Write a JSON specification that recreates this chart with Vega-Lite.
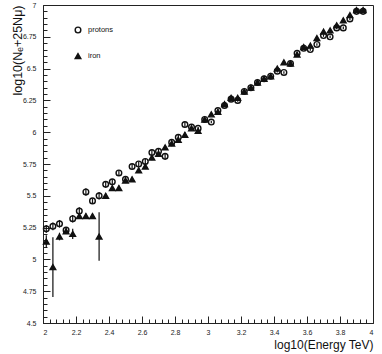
{
  "$schema": "https://vega.github.io/schema/vega-lite/v6.json",
  "width": 330,
  "height": 318,
  "autosize": {"type": "none"},
  "padding": {"left": 43, "top": 5, "right": 9, "bottom": 31},
  "background": "white",
  "config": {
    "font": "Liberation Sans",
    "view": {"stroke": "#222", "strokeWidth": 1},
    "axis": {
      "domainColor": "#222",
      "tickColor": "#222",
      "labelColor": "#222",
      "labelFont": "Liberation Sans",
      "labelFontSize": 7,
      "labelOverlap": false,
      "labelBound": false,
      "grid": false,
      "titleFont": "Liberation Sans",
      "titleFontWeight": "normal",
      "titleColor": "#111"
    }
  },
  "data": {
    "values": [
      {"E": 2.02, "y": 5.24, "err": 0.03, "type": "protons"},
      {"E": 2.06, "y": 5.26, "err": 0.03, "type": "protons"},
      {"E": 2.10, "y": 5.28, "err": 0.03, "type": "protons"},
      {"E": 2.14, "y": 5.23, "err": 0.02, "type": "protons"},
      {"E": 2.18, "y": 5.32, "err": 0.03, "type": "protons"},
      {"E": 2.22, "y": 5.38, "err": 0.03, "type": "protons"},
      {"E": 2.26, "y": 5.53, "err": 0.03, "type": "protons"},
      {"E": 2.30, "y": 5.46, "err": 0.02, "type": "protons"},
      {"E": 2.34, "y": 5.50, "err": 0.03, "type": "protons"},
      {"E": 2.38, "y": 5.59, "err": 0.02, "type": "protons"},
      {"E": 2.42, "y": 5.61, "err": 0.02, "type": "protons"},
      {"E": 2.46, "y": 5.68, "err": 0.02, "type": "protons"},
      {"E": 2.50, "y": 5.63, "err": 0.02, "type": "protons"},
      {"E": 2.54, "y": 5.73, "err": 0.02, "type": "protons"},
      {"E": 2.58, "y": 5.75, "err": 0.02, "type": "protons"},
      {"E": 2.62, "y": 5.77, "err": 0.02, "type": "protons"},
      {"E": 2.66, "y": 5.84, "err": 0.02, "type": "protons"},
      {"E": 2.70, "y": 5.85, "err": 0.02, "type": "protons"},
      {"E": 2.74, "y": 5.81, "err": 0.02, "type": "protons"},
      {"E": 2.78, "y": 5.92, "err": 0.02, "type": "protons"},
      {"E": 2.82, "y": 5.96, "err": 0.02, "type": "protons"},
      {"E": 2.86, "y": 6.06, "err": 0.02, "type": "protons"},
      {"E": 2.90, "y": 6.04, "err": 0.01, "type": "protons"},
      {"E": 2.94, "y": 6.03, "err": 0.01, "type": "protons"},
      {"E": 2.98, "y": 6.10, "err": 0.01, "type": "protons"},
      {"E": 3.02, "y": 6.08, "err": 0.01, "type": "protons"},
      {"E": 3.06, "y": 6.17, "err": 0.01, "type": "protons"},
      {"E": 3.10, "y": 6.21, "err": 0.01, "type": "protons"},
      {"E": 3.14, "y": 6.26, "err": 0.01, "type": "protons"},
      {"E": 3.18, "y": 6.25, "err": 0.01, "type": "protons"},
      {"E": 3.22, "y": 6.32, "err": 0.01, "type": "protons"},
      {"E": 3.26, "y": 6.35, "err": 0.01, "type": "protons"},
      {"E": 3.30, "y": 6.39, "err": 0.01, "type": "protons"},
      {"E": 3.34, "y": 6.42, "err": 0.01, "type": "protons"},
      {"E": 3.38, "y": 6.44, "err": 0.01, "type": "protons"},
      {"E": 3.42, "y": 6.48, "err": 0.01, "type": "protons"},
      {"E": 3.46, "y": 6.47, "err": 0.01, "type": "protons"},
      {"E": 3.50, "y": 6.54, "err": 0.01, "type": "protons"},
      {"E": 3.54, "y": 6.62, "err": 0.01, "type": "protons"},
      {"E": 3.58, "y": 6.66, "err": 0.01, "type": "protons"},
      {"E": 3.62, "y": 6.65, "err": 0.01, "type": "protons"},
      {"E": 3.66, "y": 6.69, "err": 0.01, "type": "protons"},
      {"E": 3.70, "y": 6.76, "err": 0.01, "type": "protons"},
      {"E": 3.74, "y": 6.75, "err": 0.01, "type": "protons"},
      {"E": 3.78, "y": 6.82, "err": 0.01, "type": "protons"},
      {"E": 3.82, "y": 6.82, "err": 0.01, "type": "protons"},
      {"E": 3.86, "y": 6.89, "err": 0.01, "type": "protons"},
      {"E": 3.90, "y": 6.95, "err": 0.01, "type": "protons"},
      {"E": 3.94, "y": 6.95, "err": 0.01, "type": "protons"},
      {"E": 2.02, "y": 5.14, "err": 0.05, "type": "iron"},
      {"E": 2.06, "y": 4.94, "err": 0.235, "type": "iron"},
      {"E": 2.10, "y": 5.18, "err": 0.03, "type": "iron"},
      {"E": 2.14, "y": 5.22, "err": 0.02, "type": "iron"},
      {"E": 2.18, "y": 5.20, "err": 0.04, "type": "iron"},
      {"E": 2.22, "y": 5.34, "err": 0.02, "type": "iron"},
      {"E": 2.26, "y": 5.34, "err": 0.02, "type": "iron"},
      {"E": 2.30, "y": 5.34, "err": 0.02, "type": "iron"},
      {"E": 2.34, "y": 5.18, "err": 0.19, "type": "iron"},
      {"E": 2.38, "y": 5.50, "err": 0.02, "type": "iron"},
      {"E": 2.42, "y": 5.56, "err": 0.02, "type": "iron"},
      {"E": 2.46, "y": 5.56, "err": 0.02, "type": "iron"},
      {"E": 2.50, "y": 5.62, "err": 0.02, "type": "iron"},
      {"E": 2.54, "y": 5.63, "err": 0.02, "type": "iron"},
      {"E": 2.58, "y": 5.70, "err": 0.02, "type": "iron"},
      {"E": 2.62, "y": 5.73, "err": 0.02, "type": "iron"},
      {"E": 2.66, "y": 5.80, "err": 0.02, "type": "iron"},
      {"E": 2.70, "y": 5.83, "err": 0.02, "type": "iron"},
      {"E": 2.74, "y": 5.88, "err": 0.02, "type": "iron"},
      {"E": 2.78, "y": 5.91, "err": 0.02, "type": "iron"},
      {"E": 2.82, "y": 5.94, "err": 0.02, "type": "iron"},
      {"E": 2.86, "y": 5.98, "err": 0.02, "type": "iron"},
      {"E": 2.90, "y": 6.03, "err": 0.01, "type": "iron"},
      {"E": 2.94, "y": 6.01, "err": 0.01, "type": "iron"},
      {"E": 2.98, "y": 6.10, "err": 0.01, "type": "iron"},
      {"E": 3.02, "y": 6.14, "err": 0.01, "type": "iron"},
      {"E": 3.06, "y": 6.16, "err": 0.01, "type": "iron"},
      {"E": 3.10, "y": 6.22, "err": 0.01, "type": "iron"},
      {"E": 3.14, "y": 6.27, "err": 0.01, "type": "iron"},
      {"E": 3.18, "y": 6.27, "err": 0.01, "type": "iron"},
      {"E": 3.22, "y": 6.32, "err": 0.01, "type": "iron"},
      {"E": 3.26, "y": 6.35, "err": 0.01, "type": "iron"},
      {"E": 3.30, "y": 6.39, "err": 0.01, "type": "iron"},
      {"E": 3.34, "y": 6.42, "err": 0.01, "type": "iron"},
      {"E": 3.38, "y": 6.44, "err": 0.01, "type": "iron"},
      {"E": 3.42, "y": 6.50, "err": 0.01, "type": "iron"},
      {"E": 3.46, "y": 6.55, "err": 0.01, "type": "iron"},
      {"E": 3.50, "y": 6.54, "err": 0.01, "type": "iron"},
      {"E": 3.54, "y": 6.61, "err": 0.01, "type": "iron"},
      {"E": 3.58, "y": 6.67, "err": 0.01, "type": "iron"},
      {"E": 3.62, "y": 6.68, "err": 0.01, "type": "iron"},
      {"E": 3.66, "y": 6.74, "err": 0.01, "type": "iron"},
      {"E": 3.70, "y": 6.79, "err": 0.01, "type": "iron"},
      {"E": 3.74, "y": 6.80, "err": 0.01, "type": "iron"},
      {"E": 3.78, "y": 6.84, "err": 0.01, "type": "iron"},
      {"E": 3.82, "y": 6.88, "err": 0.01, "type": "iron"},
      {"E": 3.86, "y": 6.92, "err": 0.01, "type": "iron"},
      {"E": 3.90, "y": 6.96, "err": 0.01, "type": "iron"},
      {"E": 3.94, "y": 6.96, "err": 0.01, "type": "iron"}
    ]
  },
  "encoding": {
    "x": {
      "field": "E",
      "type": "quantitative",
      "scale": {"domain": [2, 4], "nice": false, "zero": false},
      "axis": {
        "title": "log10(Energy TeV)",
        "titleFontSize": 12,
        "titleAnchor": "end",
        "titlePadding": 1,
        "values": [2, 2.04, 2.08, 2.12, 2.16, 2.2, 2.24, 2.28, 2.32, 2.36, 2.4, 2.44, 2.48, 2.52, 2.56, 2.6, 2.64, 2.68, 2.72, 2.76, 2.8, 2.84, 2.88, 2.92, 2.96, 3, 3.04, 3.08, 3.12, 3.16, 3.2, 3.24, 3.28, 3.32, 3.36, 3.4, 3.44, 3.48, 3.52, 3.56, 3.6, 3.64, 3.68, 3.72, 3.76, 3.8, 3.84, 3.88, 3.92, 3.96, 4],
        "labelExpr": "abs(datum.value*5 - round(datum.value*5)) < 0.001 ? format(datum.value, '.1~f') : ''",
        "tickSize": {"condition": {"test": "abs(datum.value*5 - round(datum.value*5)) < 0.001", "value": -7}, "value": -4},
        "labelPadding": 12
      }
    },
    "y": {
      "field": "y",
      "type": "quantitative",
      "scale": {"domain": [4.5, 7], "nice": false, "zero": false},
      "axis": {
        "title": "log10(Nₑ+25Nμ)",
        "titleFontSize": 12.5,
        "titleAngle": -90,
        "titleAlign": "right",
        "titleBaseline": "middle",
        "titleX": -26,
        "titleY": 0,
        "values": [4.5, 4.55, 4.6, 4.65, 4.7, 4.75, 4.8, 4.85, 4.9, 4.95, 5, 5.05, 5.1, 5.15, 5.2, 5.25, 5.3, 5.35, 5.4, 5.45, 5.5, 5.55, 5.6, 5.65, 5.7, 5.75, 5.8, 5.85, 5.9, 5.95, 6, 6.05, 6.1, 6.15, 6.2, 6.25, 6.3, 6.35, 6.4, 6.45, 6.5, 6.55, 6.6, 6.65, 6.7, 6.75, 6.8, 6.85, 6.9, 6.95, 7],
        "labelExpr": "abs(datum.value*4 - round(datum.value*4)) < 0.001 ? format(datum.value, '.2~f') : ''",
        "tickSize": {"condition": {"test": "abs(datum.value*4 - round(datum.value*4)) < 0.001", "value": -7}, "value": -4},
        "labelPadding": 14
      }
    }
  },
  "layer": [
    {
      "mark": {"type": "errorbar", "color": "#111", "thickness": 1.2},
      "encoding": {
        "yError": {"field": "err"}
      }
    },
    {
      "mark": {"type": "point", "strokeWidth": 1.4, "opacity": 1, "size": 32},
      "encoding": {
        "shape": {
          "field": "type",
          "type": "nominal",
          "scale": {"domain": ["protons", "iron"], "range": ["circle", "triangle-up"]},
          "legend": {"orient": "none", "legendX": 31, "legendY": 21, "title": null, "labelFontSize": 7.5, "labelColor": "#111", "rowPadding": 14, "symbolSize": 32, "symbolStrokeWidth": 1.4, "labelOffset": 6}
        },
        "fill": {
          "field": "type",
          "type": "nominal",
          "scale": {"domain": ["protons", "iron"], "range": ["rgba(255,255,255,0)", "#111"]},
          "legend": {"orient": "none", "legendX": 31, "legendY": 21, "title": null, "labelFontSize": 7.5, "labelColor": "#111", "rowPadding": 14, "symbolSize": 32, "symbolStrokeWidth": 1.4, "labelOffset": 6}
        },
        "stroke": {
          "field": "type",
          "type": "nominal",
          "scale": {"domain": ["protons", "iron"], "range": ["#111", "#111"]},
          "legend": {"orient": "none", "legendX": 31, "legendY": 21, "title": null, "labelFontSize": 7.5, "labelColor": "#111", "rowPadding": 14, "symbolSize": 32, "symbolStrokeWidth": 1.4, "labelOffset": 6}
        }
      }
    }
  ]
}
